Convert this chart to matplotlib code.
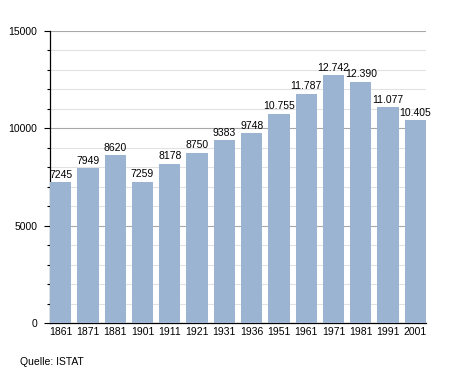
import matplotlib.pyplot as plt
from matplotlib.ticker import MultipleLocator

plt.rcParams['font.family'] = ['Liberation Sans', 'DejaVu Sans']

years = ['1861', '1871', '1881', '1901', '1911', '1921', '1931', '1936',
         '1951', '1961', '1971', '1981', '1991', '2001']
population = [7245, 7949, 8620, 7259, 8178, 8750, 9383, 9748,
              10755, 11787, 12742, 12390, 11077, 10405]


def fmt(v):
    # German thousands separator, only for 5-digit numbers as in the source
    return f"{v:,}".replace(',', '.') if v >= 10000 else str(v)


fig = plt.figure(figsize=(4.55, 3.73), dpi=100)
ax = fig.add_axes([50 / 455, 1 - 323 / 373, 376 / 455, 292 / 373])

x = range(len(years))
ax.bar(x, population, width=0.78, color='#9ab4d1', zorder=3)
for xi, v in zip(x, population):
    ax.text(xi, v + 120, fmt(v), ha='center', va='bottom', fontsize=7.5, color='black', zorder=4)

ax.set_xlim(-0.39, 13.39)
ax.set_ylim(0, 15000)
ax.set_xticks(list(x))
ax.set_xticklabels(years)
ax.yaxis.set_major_locator(MultipleLocator(5000))
ax.yaxis.set_minor_locator(MultipleLocator(1000))
ax.grid(axis='y', which='major', color='#a8a8a8', linewidth=0.8, zorder=0)
ax.grid(axis='y', which='minor', color='#e2e2e2', linewidth=0.8, zorder=0)

for s in ['top', 'right']:
    ax.spines[s].set_visible(False)
ax.spines['left'].set_linewidth(0.9)
ax.spines['bottom'].set_linewidth(0.9)
ax.tick_params(axis='x', length=0, pad=3, labelsize=7.5)
ax.tick_params(axis='y', which='major', length=4, width=0.8, pad=5, labelsize=7.5)
ax.tick_params(axis='y', which='minor', length=2.5, width=0.8)

fig.text(20 / 455, 1 - 362 / 373, 'Quelle: ISTAT', fontsize=7.5, va='center', ha='left')

fig.savefig('out.png', dpi=100)
